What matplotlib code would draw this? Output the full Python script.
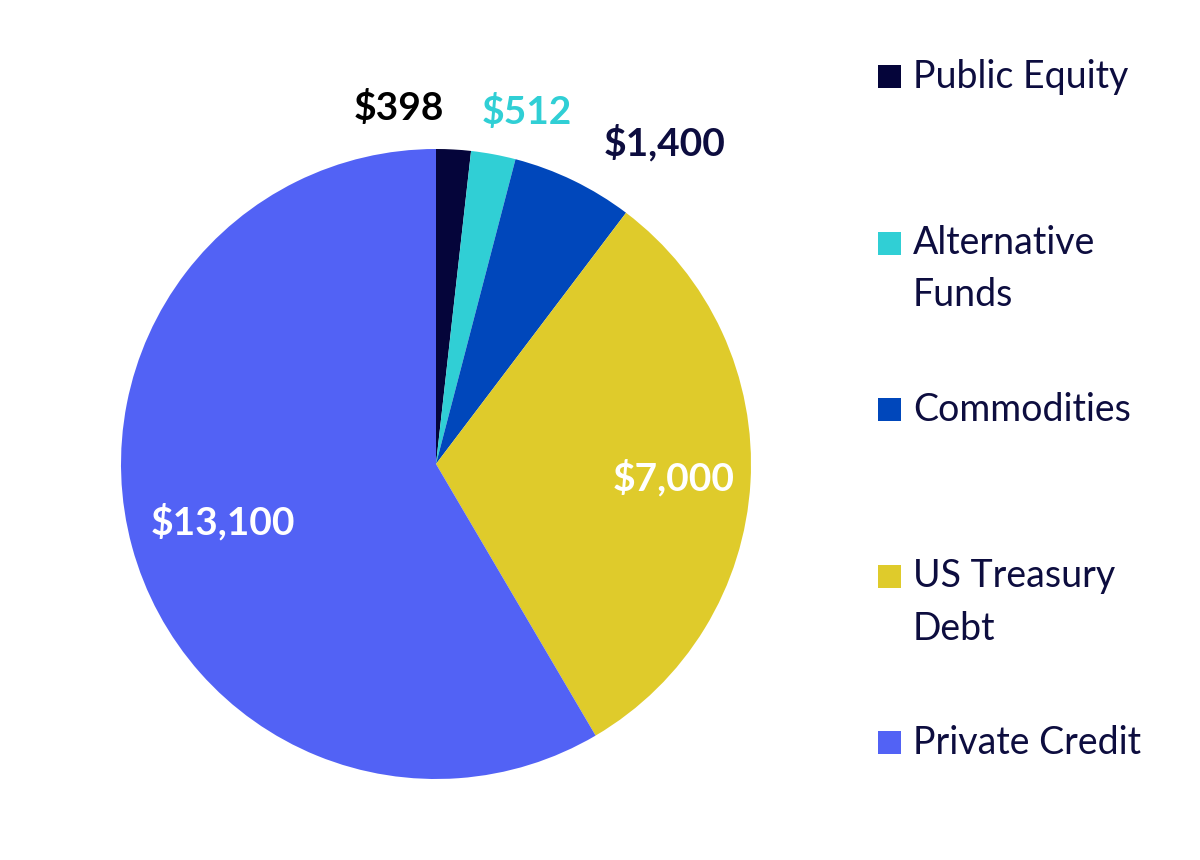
import numpy as np
import matplotlib
matplotlib.use("Agg")
import matplotlib.pyplot as plt
import matplotlib.patches as mpatches

plt.rcParams["font.family"] = ["Lato", "DejaVu Sans"]

categories = ["Public Equity", "Alternative Funds", "Commodities", "US Treasury Debt", "Private Credit"]
legend_labels = ["Public Equity", "Alternative\nFunds", "Commodities", "US Treasury\nDebt", "Private Credit"]
values = [398, 512, 1400, 7000, 13100]
value_labels = ["$398", "$512", "$1,400", "$7,000", "$13,100"]

COLORS = ["#05053a", "#30cfd5", "#0047bb", "#dfcb2b", "#5262f5"]
LABEL_COLORS = ["#000000", "#30cfd5", "#0d0d3f", "white", "white"]
TEXT_COLOR = "#0d0d3f"

# outside labels placed by hand (data units, radius = 1), inside ones radially
OUTSIDE_POS = {0: (-0.117, 1.130), 1: (0.289, 1.117), 2: (0.727, 1.019)}
INSIDE_DIST = {3: 0.755, 4: 0.70}

W, H, DPI = 1200, 860, 100
fig = plt.figure(figsize=(W / DPI, H / DPI), dpi=DPI)

# pie centre (436, 396) px from bottom-left, radius 315 px
R_PX = 315
half = 1.5 * R_PX
cx, cy = 436, H - 464
ax = fig.add_axes([(cx - half) / W, (cy - half) / H, 2 * half / W, 2 * half / H])

wedges, _ = ax.pie(values, colors=COLORS, startangle=90, counterclock=False,
                   radius=1.0, wedgeprops=dict(linewidth=0))
ax.set_xlim(-1.5, 1.5)
ax.set_ylim(-1.5, 1.5)
ax.set_aspect("equal")
ax.axis("off")

total = float(sum(values))
start = 0.0
for i, v in enumerate(values):
    mid = start + v / total * 180.0
    start += v / total * 360.0
    if i in OUTSIDE_POS:
        x, y = OUTSIDE_POS[i]
    else:
        a = np.deg2rad(mid)
        x, y = INSIDE_DIST[i] * np.sin(a), INSIDE_DIST[i] * np.cos(a)
    ax.text(x, y, value_labels[i], ha="center", va="center", fontsize=28,
            fontweight="bold", color=LABEL_COLORS[i])

# legend drawn by hand: squares equally spaced, first-line baseline at square bottom
sq = 23
line_gap = 52
for i, lab in enumerate(legend_labels):
    top = 65 + i * 166.5
    fig.patches.append(mpatches.Rectangle((878 / W, (H - top - sq) / H), sq / W, sq / H,
                                          transform=fig.transFigure, facecolor=COLORS[i],
                                          edgecolor="none"))
    for j, line in enumerate(lab.split("\n")):
        fig.text(913 / W, (H - top - sq - j * line_gap) / H, line, ha="left", va="baseline",
                 fontsize=27, color=TEXT_COLOR)

fig.savefig("out.png", dpi=DPI, facecolor="white")
